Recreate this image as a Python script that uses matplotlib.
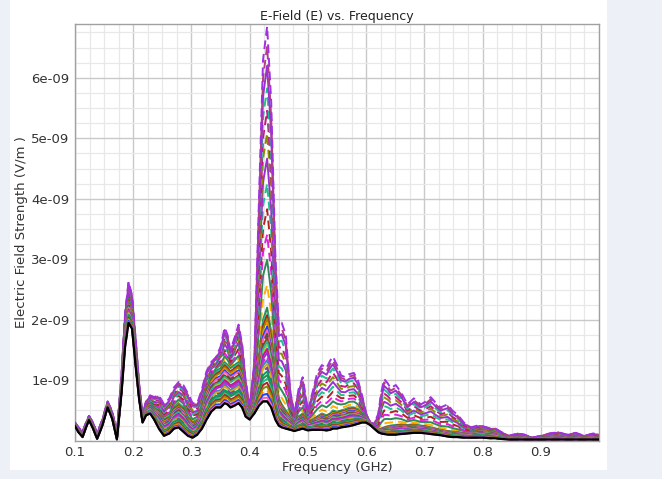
import matplotlib
matplotlib.use("Agg")
import matplotlib.pyplot as plt
from matplotlib.patches import Rectangle
from matplotlib.ticker import MultipleLocator, FixedLocator
import numpy as np

# ---- data (units of 1e-9 V/m) ----
freq = [0.100, 0.106, 0.113, 0.119, 0.124, 0.131, 0.138, 0.147, 0.156, 0.164,
        0.172, 0.180, 0.186, 0.192, 0.198, 0.204, 0.210, 0.216, 0.222, 0.229,
        0.236, 0.244, 0.253, 0.262, 0.270, 0.278, 0.286, 0.294, 0.302, 0.310,
        0.318, 0.326, 0.334, 0.342, 0.350, 0.357, 0.362, 0.367, 0.374, 0.381,
        0.387, 0.393, 0.400, 0.408, 0.416, 0.423, 0.430, 0.437, 0.444, 0.450,
        0.455, 0.462, 0.470, 0.477, 0.484, 0.491, 0.500, 0.508, 0.516, 0.524,
        0.532, 0.538, 0.543, 0.550, 0.557, 0.564, 0.571, 0.579, 0.586, 0.593,
        0.600, 0.607, 0.614, 0.621, 0.626, 0.631, 0.637, 0.642, 0.651, 0.660,
        0.671, 0.682, 0.694, 0.703, 0.711, 0.720, 0.728, 0.740, 0.748, 0.757,
        0.768, 0.780, 0.791, 0.800, 0.814, 0.822, 0.831, 0.845, 0.860, 0.872,
        0.885, 0.900, 0.915, 0.930, 0.945, 0.960, 0.975, 0.990, 1.000]

top_env = [0.30, 0.22, 0.15, 0.30, 0.41, 0.30, 0.12, 0.35, 0.65, 0.48,
           0.12, 1.10, 2.10, 2.63, 2.40, 1.70, 0.95, 0.42, 0.65, 0.75,
           0.72, 0.75, 0.60, 0.70, 0.88, 0.97, 0.92, 0.78, 0.62, 0.62,
           0.85, 1.15, 1.30, 1.38, 1.55, 1.87, 1.75, 1.50, 1.70, 1.92,
           1.60, 1.00, 0.55, 1.30, 4.00, 6.30, 6.85, 5.60, 3.10, 1.90,
           1.95, 1.75, 0.80, 0.45, 0.85, 1.05, 0.50, 0.80, 1.12, 1.25,
           1.20, 1.32, 1.39, 1.25, 1.08, 1.05, 1.10, 1.12, 1.00, 0.75,
           0.45, 0.30, 0.28, 0.45, 0.80, 1.02, 0.95, 0.87, 0.92, 0.80,
           0.60, 0.70, 0.60, 0.65, 0.72, 0.62, 0.55, 0.60, 0.50, 0.43,
           0.30, 0.22, 0.25, 0.24, 0.20, 0.20, 0.15, 0.08, 0.12, 0.10,
           0.05, 0.08, 0.12, 0.14, 0.10, 0.13, 0.08, 0.12, 0.10]

mid_env = [0.28, 0.18, 0.10, 0.26, 0.38, 0.26, 0.08, 0.30, 0.60, 0.42,
           0.06, 0.95, 1.85, 2.35, 2.15, 1.45, 0.80, 0.36, 0.55, 0.62,
           0.55, 0.50, 0.35, 0.40, 0.55, 0.62, 0.55, 0.40, 0.30, 0.35,
           0.55, 0.85, 1.05, 1.15, 1.20, 1.30, 1.25, 1.20, 1.25, 1.30,
           1.15, 0.70, 0.45, 0.75, 1.40, 2.00, 2.20, 1.80, 1.10, 0.70,
           0.60, 0.50, 0.38, 0.30, 0.40, 0.45, 0.32, 0.35, 0.40, 0.45,
           0.42, 0.45, 0.50, 0.48, 0.50, 0.52, 0.55, 0.55, 0.52, 0.45,
           0.38, 0.30, 0.22, 0.18, 0.20, 0.22, 0.24, 0.25, 0.26, 0.27,
           0.26, 0.27, 0.25, 0.24, 0.22, 0.20, 0.18, 0.16, 0.15, 0.14,
           0.13, 0.14, 0.17, 0.18, 0.16, 0.14, 0.10, 0.05, 0.07, 0.06,
           0.04, 0.05, 0.07, 0.08, 0.06, 0.07, 0.05, 0.06, 0.05]

low_env = [0.24, 0.14, 0.06, 0.22, 0.34, 0.20, 0.03, 0.25, 0.55, 0.36,
           0.02, 0.80, 1.55, 1.95, 1.85, 1.25, 0.70, 0.30, 0.42, 0.45,
           0.35, 0.20, 0.08, 0.12, 0.20, 0.22, 0.15, 0.08, 0.05, 0.10,
           0.20, 0.35, 0.48, 0.55, 0.55, 0.62, 0.60, 0.55, 0.58, 0.62,
           0.55, 0.40, 0.35, 0.45, 0.58, 0.65, 0.65, 0.55, 0.35, 0.25,
           0.22, 0.20, 0.18, 0.16, 0.18, 0.20, 0.17, 0.18, 0.18, 0.18,
           0.17, 0.18, 0.20, 0.20, 0.22, 0.23, 0.24, 0.26, 0.28, 0.30,
           0.30, 0.26, 0.20, 0.14, 0.12, 0.11, 0.10, 0.10, 0.10, 0.11,
           0.12, 0.13, 0.13, 0.12, 0.11, 0.10, 0.09, 0.07, 0.06, 0.06,
           0.05, 0.05, 0.05, 0.05, 0.04, 0.04, 0.03, 0.02, 0.02, 0.02,
           0.02, 0.02, 0.02, 0.02, 0.02, 0.02, 0.02, 0.02, 0.02]

# mixing fractions for each plotted curve (dense lower cluster, sparse upper group)
lower_mix = [0.00, 0.04, 0.08, 0.12, 0.16, 0.20, 0.24, 0.28, 0.32, 0.36,
             0.40, 0.44, 0.48, 0.52, 0.56, 0.60, 0.64, 0.68, 0.72, 0.76,
             0.80, 0.84, 0.88, 0.92, 0.96, 1.00]
upper_mix = [0.08, 0.17, 0.26, 0.35, 0.44, 0.53, 0.62, 0.70, 0.78, 0.86,
             0.93, 1.00]

palette = ['#2e8b57', '#20c090', '#b22222', '#8b8b00', '#ff8c00', '#2040ff',
           '#ff60b0', '#505050', '#8b4513', '#20b2aa', '#9acd32', '#c71585',
           '#9b30d0', '#e020e0', '#4682b4', '#daa520', '#7b3fa0', '#00a060']
upper_colors = ['#ffb000', '#2e8b57', '#e020e0', '#b22222', '#20c090', '#9b30d0',
                '#8b8b00', '#c71585', '#20c090', '#9b30d0', '#b04080', '#a030e0']

x_ticks = [0.1, 0.2, 0.3, 0.4, 0.5, 0.6, 0.7, 0.8, 0.9]
y_ticks = [1e-9, 2e-9, 3e-9, 4e-9, 5e-9, 6e-9]
y_tick_labels = ['1e-09', '2e-09', '3e-09', '4e-09', '5e-09', '6e-09']

# ---- figure ----
fig = plt.figure(figsize=(6.62, 4.79), dpi=100)
fig.patch.set_facecolor('#eef0f7')
bg = Rectangle((10 / 662, 9 / 479), (607 - 10) / 662, 1 - 9 / 479,
               transform=fig.transFigure, facecolor='white', edgecolor='none',
               zorder=-10)
fig.add_artist(bg)

ax = fig.add_axes([75 / 662, 1 - 440.7 / 479, (599 - 75) / 662, (440.7 - 24) / 479])
ax.set_facecolor('white')

f = np.array(freq)
T = np.array(top_env) * 1e-9
M = np.array(mid_env) * 1e-9
B = np.array(low_env) * 1e-9

dash = (0, (4.5, 2.5))
for k, w in enumerate(upper_mix):
    y = M + w * (T - M)
    ls = dash if k % 4 != 1 else '-'
    ax.plot(f, y, color=upper_colors[k], lw=1.4, linestyle=ls, zorder=3)
for k, w in enumerate(lower_mix[::-1]):
    y = B + w * (M - B)
    ls = '-' if k % 3 != 1 else dash
    ax.plot(f, y, color=palette[k % len(palette)], lw=1.4, linestyle=ls, zorder=4)
ax.plot(f, B, color='black', lw=1.6, zorder=5)

ax.set_xlim(0.1, 1.0)
ax.set_ylim(0, 6.89e-9)
ax.xaxis.set_major_locator(FixedLocator(x_ticks))
ax.xaxis.set_minor_locator(MultipleLocator(0.025))
ax.yaxis.set_major_locator(FixedLocator(y_ticks))
ax.yaxis.set_minor_locator(MultipleLocator(0.25e-9))
ax.set_xticklabels([f"{v:.1f}" for v in x_ticks])
ax.set_yticklabels(y_tick_labels)
ax.grid(which='major', color='#c9c9c9', lw=1.0, zorder=1)
ax.grid(which='minor', color='#e8e8e8', lw=0.9, zorder=0)
ax.set_axisbelow(True)
ax.tick_params(which='both', length=0, labelsize=9.5, colors='#333333', pad=4)
for s in ax.spines.values():
    s.set_color('#a0a0a0')
    s.set_linewidth(1.0)

ax.set_title('E-Field (E) vs. Frequency', fontsize=9, color='#222222', pad=3)
ax.set_xlabel('Frequency (GHz)', fontsize=9.5, color='#333333', labelpad=1)
ax.set_ylabel('Electric Field Strength (V/m )', fontsize=9.5, color='#333333', labelpad=2)

fig.savefig('out.png', dpi=100, facecolor=fig.get_facecolor())
